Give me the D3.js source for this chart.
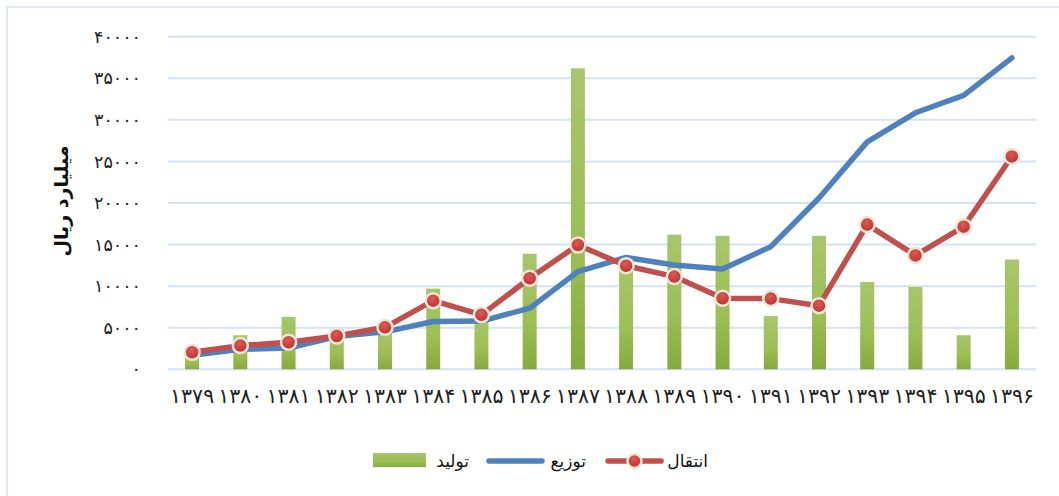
<!DOCTYPE html>
<html><head><meta charset="utf-8">
<script src="https://cdn.jsdelivr.net/npm/d3@7"></script>
<style>
html,body{margin:0;padding:0;background:#fff;}
svg{display:block;font-family:"DejaVu Sans",sans-serif;}
</style></head>
<body>
<svg id="chart" width="1059" height="496"></svg>
<script>
const years = ["۱۳۷۹","۱۳۸۰","۱۳۸۱","۱۳۸۲","۱۳۸۳","۱۳۸۴","۱۳۸۵","۱۳۸۶","۱۳۸۷","۱۳۸۸","۱۳۸۹","۱۳۹۰","۱۳۹۱","۱۳۹۲","۱۳۹۳","۱۳۹۴","۱۳۹۵","۱۳۹۶"];
const production = [1800,4100,6300,4800,4600,9700,5800,13900,36200,12200,16200,16050,6400,16050,10500,9900,4100,13200];
const distribution = [1700,2400,2550,3950,4500,5750,5800,7350,11750,13450,12550,12050,14750,20600,27350,30850,32950,37450];
const transmission = [2050,2850,3250,4000,5050,8250,6550,10950,14950,12450,11150,8550,8500,7650,17400,13700,17150,25600];
const yTicks = [0,5000,10000,15000,20000,25000,30000,35000,40000];
const seriesNames = ["تولید","توزیع","انتقال"];
const yTitle = "میلیارد ریال";

const toFa = n => String(n).replace(/\d/g, d => "۰۱۲۳۴۵۶۷۸۹"[d]);

const svg = d3.select("#chart");
const defs = svg.append("defs");
const g1 = defs.append("linearGradient").attr("id","barGrad").attr("x1",0).attr("y1",0).attr("x2",0).attr("y2",1);
g1.append("stop").attr("offset","0%").attr("stop-color","#a8c56c");
g1.append("stop").attr("offset","60%").attr("stop-color","#9bbf55");
g1.append("stop").attr("offset","100%").attr("stop-color","#86aa3e");
const g2 = defs.append("radialGradient").attr("id","mkGrad").attr("cx","45%").attr("cy","35%").attr("r","65%");
g2.append("stop").attr("offset","0%").attr("stop-color","#dd5a57");
g2.append("stop").attr("offset","100%").attr("stop-color","#b8302d");

// outer border (left/top visible)
svg.append("rect").attr("x",7).attr("y",7).attr("width",1070).attr("height",500)
  .attr("fill","none").attr("stroke","#d3e1f3").attr("stroke-width",1.5);

const x = d3.scaleBand().domain(years).range([168,1036]).paddingInner(0).paddingOuter(0);
const y = d3.scaleLinear().domain([0,40000]).range([369.3,36.7]);

// gridlines
svg.append("g").selectAll("line").data(yTicks).join("line")
  .attr("x1",168).attr("x2",1036).attr("y1",d=>y(d)).attr("y2",d=>y(d))
  .attr("stroke","#d5e2f3").attr("stroke-width",2);

// y axis labels
const yAxis = d3.axisLeft(y).tickValues(yTicks).tickFormat(d=>toFa(d)).tickSize(0).tickPadding(0);
const ya = svg.append("g").attr("transform","translate(141,0)").call(yAxis);
ya.select(".domain").remove();
ya.selectAll("text").attr("font-size",17.5).attr("fill","#222").attr("font-family","DejaVu Sans");

// x axis labels
const xAxis = d3.axisBottom(x).tickSize(0).tickPadding(0);
const xa = svg.append("g").attr("transform","translate(0,389)").call(xAxis);
xa.select(".domain").remove();
xa.selectAll("text").attr("font-size",20.5).attr("fill","#222").attr("dy","0.7em").attr("font-family","DejaVu Sans");

// y title
svg.append("text").attr("transform","translate(68,201) rotate(-90)")
  .attr("text-anchor","middle").attr("font-size",19).attr("font-weight","bold").attr("fill","#111")
  .text(yTitle);

// bars
const bw = 14;
svg.append("g").selectAll("rect").data(production).join("rect")
  .attr("x",(d,i)=>x(years[i])+x.bandwidth()/2-bw/2).attr("width",bw)
  .attr("y",d=>y(d)).attr("height",d=>y(0)-y(d)).attr("fill","url(#barGrad)");

const cx = i => x(years[i])+x.bandwidth()/2;
const line = d3.line().x((d,i)=>cx(i)).y(d=>y(d));

svg.append("path").datum(distribution).attr("d",line).attr("fill","none")
  .attr("stroke","#4f81bd").attr("stroke-width",5.5).attr("stroke-linejoin","round").attr("stroke-linecap","round");
svg.append("path").datum(transmission).attr("d",line).attr("fill","none")
  .attr("stroke","#c0504d").attr("stroke-width",5.5).attr("stroke-linejoin","round").attr("stroke-linecap","round");
svg.append("g").selectAll("circle").data(transmission).join("circle")
  .attr("cx",(d,i)=>cx(i)).attr("cy",d=>y(d)).attr("r",7.5)
  .attr("fill","url(#mkGrad)").attr("stroke","#ebe6d6").attr("stroke-width",2.5);

// legend
const lg = svg.append("g").attr("font-size",17).attr("fill","#111");
lg.append("rect").attr("x",373).attr("y",453).attr("width",53).attr("height",14).attr("fill","url(#barGrad)");
lg.append("text").attr("x",469).attr("y",467).attr("text-anchor","end").text(seriesNames[0]);
lg.append("line").attr("x1",489).attr("x2",542).attr("y1",461).attr("y2",461)
  .attr("stroke","#4f81bd").attr("stroke-width",5.5).attr("stroke-linecap","round");
lg.append("text").attr("x",586).attr("y",467).attr("text-anchor","end").text(seriesNames[1]);
lg.append("line").attr("x1",608).attr("x2",661).attr("y1",461).attr("y2",461)
  .attr("stroke","#c0504d").attr("stroke-width",5.5).attr("stroke-linecap","round");
lg.append("circle").attr("cx",634.5).attr("cy",461).attr("r",7)
  .attr("fill","url(#mkGrad)").attr("stroke","#ebe6d6").attr("stroke-width",2.5);
lg.append("text").attr("x",708).attr("y",467).attr("text-anchor","end").text(seriesNames[2]);
</script>
</body></html>
